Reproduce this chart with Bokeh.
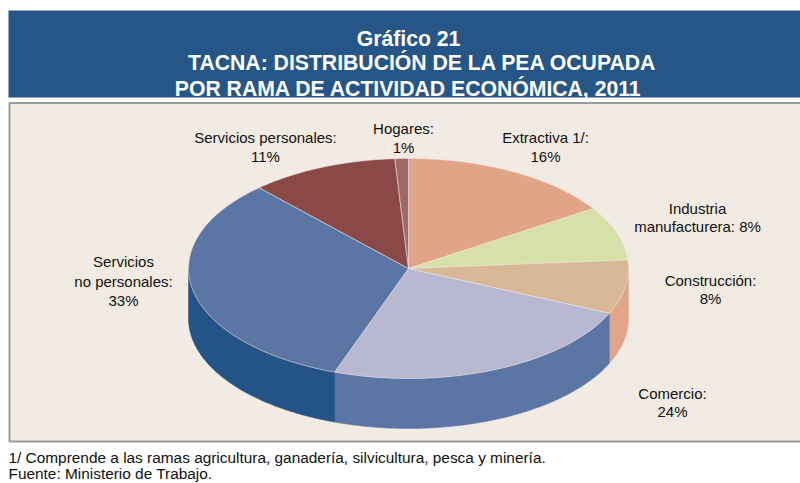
import numpy as np
from bokeh.plotting import figure
from bokeh.models import Range1d
from bokeh.core.properties import value
from bokeh.embed import file_html
from bokeh.resources import INLINE

# ---------------- data ----------------
categories = ["Extractiva 1/", "Industria\nmanufacturera", "Construcción", "Comercio",
              "Servicios\nno personales", "Servicios personales", "Hogares"]
values = [16, 8, 8, 24, 33, 11, 1]
value_same_line = [False, True, False, False, False, False, False]

top_colors = ["#e0a586", "#d8e0a9", "#d8b997", "#b8b8d1", "#5b76a4", "#8a4846", "#a06867"]
side_colors = ["#c98c6e", "#b9c28a", "#e1a689", "#5b76a4", "#245487", "#6e3533", "#844f4e"]

title_lines = ["Gráfico 21", "TACNA: DISTRIBUCIÓN DE LA PEA OCUPADA",
               "POR RAMA DE ACTIVIDAD ECONÓMICA, 2011"]
footnotes = ["1/ Comprende a las ramas agricultura, ganadería, silvicultura, pesca y minería.",
             "Fuente: Ministerio de Trabajo."]

# ---------------- layout (page pixel coordinates) ----------------
W, H = 800, 483

p = figure(width=W, height=H, x_range=Range1d(0, W), y_range=Range1d(H, 0),
           x_axis_type=None, y_axis_type=None, output_backend="svg",
           toolbar_location=None, min_border=0)
p.grid.visible = False
p.outline_line_color = None
p.background_fill_color = "white"
p.border_fill_color = "white"

# banner
p.quad(left=8, right=W, top=10, bottom=97, fill_color="#265588", line_color=None)
title_x = [408, 422, 408]
title_y = [38, 62, 88]
p.text(x=title_x, y=title_y, text=title_lines,
       text_font=value("Liberation Sans"), text_font_style="bold",
       text_font_size="21.2px", text_color="white", text_align="center",
       text_baseline="alphabetic")

# plot box
p.quad(left=9, right=W + 5, top=102.5, bottom=441, fill_color="#f1ebe4",
       line_color="#9b9b9b", line_width=2)

# pie geometry
cx, cy = 408, 268
rx, ry, depth = 220, 110, 50
frac = np.array(values, dtype=float) / sum(values)
ends = np.cumsum(frac) * 2 * np.pi
starts = ends - frac * 2 * np.pi

side_xs, side_ys, side_cols = [], [], []
for s, e, c in zip(starts, ends, side_colors):
    a, b = max(s, np.pi / 2), min(e, 1.5 * np.pi)
    if a < b:
        t = np.linspace(a, b, 120)
        ux = cx + rx * np.sin(t)
        uy = cy - ry * np.cos(t)
        side_xs.append(list(ux) + list(ux[::-1]))
        side_ys.append(list(uy) + list((uy + depth)[::-1]))
        side_cols.append(c)
p.patches(xs=side_xs, ys=side_ys, fill_color=side_cols, line_color=side_cols, line_width=0.5)

top_xs, top_ys = [], []
for s, e in zip(starts, ends):
    t = np.linspace(s, e, max(8, int((e - s) * 80)))
    top_xs.append([cx] + list(cx + rx * np.sin(t)))
    top_ys.append([cy] + list(cy - ry * np.cos(t)))
p.patches(xs=top_xs, ys=top_ys, fill_color=top_colors, line_color="#ece4dc",
          line_width=0.7, line_alpha=0.8)

# labels
label_x = [545, 697, 710, 672, 123, 265, 403]
label_y0 = [137, 208, 280, 393, 261, 137, 128]
line_h = [19, 18, 18, 18, 19.5, 19, 19]
lx, ly, lt = [], [], []
for cat, v, same, x0, y0, h in zip(categories, values, value_same_line, label_x, label_y0, line_h):
    txt = f"{cat}: {v}%" if same else f"{cat}:\n{v}%"
    for i, line in enumerate(txt.split("\n")):
        lx.append(x0)
        ly.append(y0 + i * h)
        lt.append(line)
p.text(x=lx, y=ly, text=lt, text_font=value("Liberation Sans"), text_font_size="15px",
       text_color="#111111", text_align="center", text_baseline="alphabetic")

# footnotes
p.text(x=[8, 8], y=[457, 473], text=footnotes,
       text_font=value("Liberation Sans"), text_font_size="15.4px", text_color="#111111",
       text_align="left", text_baseline="alphabetic")

open("out.html", "w").write(file_html(p, INLINE))
